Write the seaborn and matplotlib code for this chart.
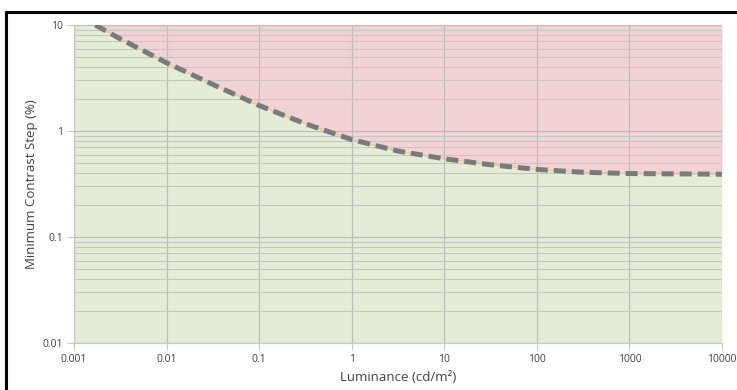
import matplotlib
matplotlib.use("Agg")
import matplotlib.pyplot as plt
from matplotlib.lines import Line2D
from matplotlib.ticker import LogLocator, FixedLocator, FixedFormatter, NullFormatter
import seaborn as sns
import pandas as pd

# Data
luminance = [0.0017, 0.00316, 0.01, 0.0316, 0.1, 0.316, 1, 3.16, 10, 31.6, 100, 316, 1000, 3162, 10000]
contrast_step = [10.0, 7.4, 4.4, 2.75, 1.74, 1.17, 0.83, 0.647, 0.547, 0.48, 0.434, 0.408, 0.397, 0.394, 0.391]

x_ticks = [0.001, 0.01, 0.1, 1, 10, 100, 1000, 10000]
x_tick_labels = ["0.001", "0.01", "0.1", "1", "10", "100", "1000", "10000"]
y_ticks = [0.01, 0.1, 1, 10]
y_tick_labels = ["0.01", "0.1", "1", "10"]

sns.set_theme(style="white")
plt.rcParams['font.family'] = ['Open Sans', 'DejaVu Sans']

df = pd.DataFrame({"Luminance": luminance, "Step": contrast_step})

fig = plt.figure(figsize=(7.37, 3.9), dpi=100)
ax = fig.add_axes([74 / 737, 1 - 343 / 390, 648 / 737, 318 / 390])

green = "#e4ecd6"
red = "#f1d3d4"
ax.set_facecolor(green)
ax.fill_between(df["Luminance"], df["Step"], 10, color=red, lw=0, zorder=0.2)
ax.plot(df["Luminance"], df["Step"], color="#e8c9a0", lw=1.2, zorder=0.3)

sns.lineplot(data=df, x="Luminance", y="Step", ax=ax, color="#7a7a7a",
             lw=3.6, zorder=3)
ax.lines[-1].set_dashes((2.4, 1.2))

ax.set_xscale("log")
ax.set_yscale("log")
ax.set_xlim(0.001, 10000)
ax.set_ylim(0.01, 10)

ax.xaxis.set_major_locator(FixedLocator(x_ticks))
ax.xaxis.set_major_formatter(FixedFormatter(x_tick_labels))
ax.xaxis.set_minor_locator(FixedLocator([]))
ax.yaxis.set_major_locator(FixedLocator(y_ticks))
ax.yaxis.set_major_formatter(FixedFormatter(y_tick_labels))
ax.yaxis.set_minor_locator(LogLocator(base=10, subs=range(2, 10)))
ax.yaxis.set_minor_formatter(NullFormatter())

ax.set_axisbelow(True)
ax.grid(True, which="major", axis="both", color="#bdbdbd", lw=0.9)
ax.grid(True, which="minor", axis="y", color="#c6c6c6", lw=0.8)

for s in ["top", "right"]:
    ax.spines[s].set_visible(False)
for s in ["left", "bottom"]:
    ax.spines[s].set_color("#c8c8c8")
    ax.spines[s].set_linewidth(0.9)

ax.tick_params(axis="both", which="major", length=5, width=0.8, color="#c8c8c8",
               labelsize=7.5, labelcolor="#404040", pad=3, left=True, bottom=True)
ax.tick_params(axis="y", which="minor", length=0)

ax.set_xlabel("Luminance (cd/m²)", fontsize=9.5, color="#404040", labelpad=4)
ax.set_ylabel("Minimum Contrast Step (%)", fontsize=9.5, color="#404040", labelpad=3)

# Black frame lines (top and left) around the chart
fig.add_artist(Line2D([6 / 737, 1], [1 - 12 / 390, 1 - 12 / 390], color="black", lw=2.2,
                      transform=fig.transFigure))
fig.add_artist(Line2D([6 / 737, 6 / 737], [0, 1 - 12 / 390], color="black", lw=2.2,
                      transform=fig.transFigure))

fig.savefig("out.png", dpi=100)
